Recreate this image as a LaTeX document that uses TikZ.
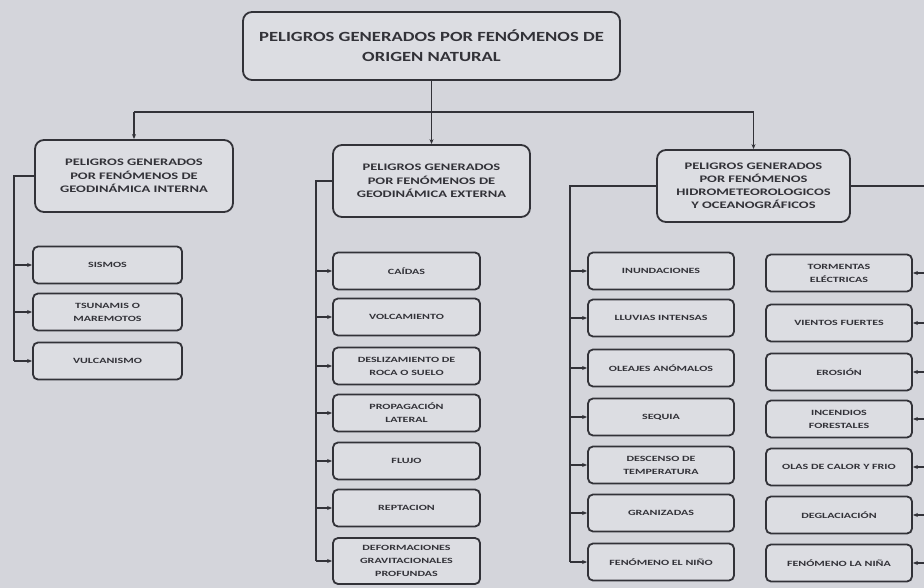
\documentclass[tikz,border=0pt]{standalone}
\usepackage{fontspec}
\setmainfont{Carlito}
\newfontfamily\widefont[FakeStretch=1.33]{Carlito}
\newfontfamily\catfont[FakeStretch=1.45]{Carlito}
\newfontfamily\leaffont[FakeStretch=1.5]{Carlito}
\usetikzlibrary{arrows.meta}
\definecolor{bg}{RGB}{212,213,219}
\definecolor{boxfill}{RGB}{220,221,226}
\definecolor{ink}{RGB}{50,50,56}
\begin{document}
\begin{tikzpicture}[x=1pt,y=-1pt,
  line/.style={draw=ink, line width=1.3pt},
  arr/.style={draw=ink, line width=1.3pt, -{Stealth[length=5pt,width=4pt]}},
  basebox/.style={draw=ink, line width=1.8pt, fill=boxfill, align=center, text=ink, inner sep=0pt},
  titlebox/.style={basebox, rounded corners=9pt, minimum width=377pt, minimum height=68pt, font=\widefont\bfseries\fontsize{14}{20}\selectfont},
  catbox/.style={basebox, rounded corners=9pt, minimum height=72pt, font=\catfont\bfseries\fontsize{10}{13.5}\selectfont},
  leaf/.style={basebox, rounded corners=5pt, minimum width=147pt, minimum height=37pt, font=\leaffont\bfseries\fontsize{8}{13}\selectfont}]
\fill[bg] (0,0) rectangle (924,588);
\useasboundingbox (0,0) rectangle (924,588);
\clip (0,0) rectangle (924,588);

% title
\node[titlebox] (top) at (431.5,46) {PELIGROS GENERADOS POR FENÓMENOS DE\\ORIGEN NATURAL};
\coordinate (hub) at (431.5,112);

% categories
\node[catbox, minimum width=198pt] (lcat) at (134,176) {PELIGROS GENERADOS\\POR FENÓMENOS DE\\GEODINÁMICA INTERNA};
\node[catbox, minimum width=197pt] (mcat) at (431.5,181) {PELIGROS GENERADOS\\POR FENÓMENOS DE\\GEODINÁMICA EXTERNA};
\node[catbox, minimum width=193pt, font=\catfont\bfseries\fontsize{10}{13}\selectfont] (rcat) at (753.5,186) {PELIGROS GENERADOS\\POR FENÓMENOS\\HIDROMETEOROLOGICOS\\Y OCEANOGRÁFICOS};

\draw[line] (top.south) -- (hub);
\draw[line] (lcat.north |- hub) -- (rcat.north |- hub);
\draw[arr] (lcat.north |- hub) -- (lcat.north);
\draw[arr] (hub) -- (mcat.north);
\draw[arr] (rcat.north |- hub) -- (rcat.north);

% left column
\node[leaf, minimum width=149pt] (l1) at (107.5,265) {SISMOS};
\node[leaf, minimum width=149pt] (l2) at (107.5,312) {TSUNAMIS O\\MAREMOTOS};
\node[leaf, minimum width=149pt] (l3) at (107.5,361) {VULCANISMO};
\coordinate (lb) at (14,0);
\draw[line] (lcat.west) -- (lcat.west -| lb) -- (lb |- l3.west);
\foreach \n in {l1,l2,l3} \draw[arr] (lb |- \n.west) -- (\n.west);

% middle column
\node[leaf] (m1) at (406.5,271) {CAÍDAS};
\node[leaf] (m2) at (406.5,317) {VOLCAMIENTO};
\node[leaf] (m3) at (406.5,366) {DESLIZAMIENTO DE\\ROCA O SUELO};
\node[leaf] (m4) at (406.5,413) {PROPAGACIÓN\\LATERAL};
\node[leaf] (m5) at (406.5,461) {FLUJO};
\node[leaf] (m6) at (406.5,508) {REPTACION};
\node[leaf, minimum height=46pt] (m7) at (406.5,561) {DEFORMACIONES\\GRAVITACIONALES\\PROFUNDAS};
\coordinate (mb) at (316,0);
\draw[line] (mcat.west) -- (mcat.west -| mb) -- (mb |- m7.west);
\foreach \n in {m1,m2,m3,m4,m5,m6,m7} \draw[arr] (mb |- \n.west) -- (\n.west);

% right-left column
\node[leaf, minimum width=146pt] (a1) at (661,271) {INUNDACIONES};
\node[leaf, minimum width=146pt] (a2) at (661,318) {LLUVIAS INTENSAS};
\node[leaf, minimum width=146pt] (a3) at (661,368) {OLEAJES ANÓMALOS};
\node[leaf, minimum width=146pt] (a4) at (661,417) {SEQUIA};
\node[leaf, minimum width=146pt] (a5) at (661,465) {DESCENSO DE\\TEMPERATURA};
\node[leaf, minimum width=146pt] (a6) at (661,513) {GRANIZADAS};
\node[leaf, minimum width=146pt] (a7) at (661,562) {FENÓMENO EL NIÑO};
\coordinate (ab) at (570,0);
\draw[line] (rcat.west) -- (rcat.west -| ab) -- (ab |- a7.west);
\foreach \n in {a1,a2,a3,a4,a5,a6,a7} \draw[arr] (ab |- \n.west) -- (\n.west);

% right-right column
\node[leaf, minimum width=146pt] (b1) at (839,273) {TORMENTAS\\ELÉCTRICAS};
\node[leaf, minimum width=146pt] (b2) at (839,323) {VIENTOS FUERTES};
\node[leaf, minimum width=146pt] (b3) at (839,372) {EROSIÓN};
\node[leaf, minimum width=146pt] (b4) at (839,419) {INCENDIOS\\FORESTALES};
\node[leaf, minimum width=146pt] (b5) at (839,467) {OLAS DE CALOR Y FRIO};
\node[leaf, minimum width=146pt] (b6) at (839,515) {DEGLACIACIÓN};
\node[leaf, minimum width=146pt] (b7) at (839,563) {FENÓMENO LA NIÑA};
\coordinate (bb) at (940,0);
\draw[line] (rcat.east) -- (rcat.east -| bb);
\draw[line] (bb |- rcat.east) -- (bb |- b7.east);
\foreach \n in {b1,b2,b3,b4,b5,b6,b7} \draw[arr] (bb |- \n.east) -- (\n.east);
\end{tikzpicture}
\end{document}
